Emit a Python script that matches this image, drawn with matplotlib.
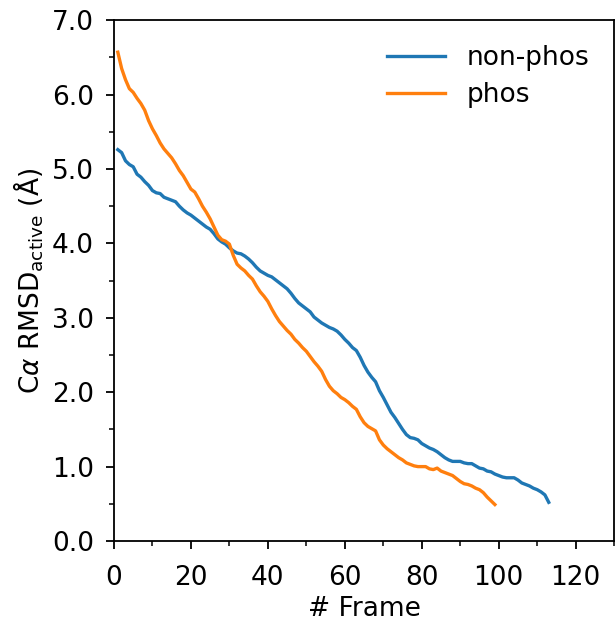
import matplotlib
matplotlib.use("Agg")
import matplotlib.pyplot as plt
from matplotlib.ticker import MultipleLocator, FormatStrFormatter

nonphos = [5.26, 5.22, 5.11, 5.06, 5.03, 4.93, 4.89, 4.83, 4.78, 4.71,
           4.68, 4.67, 4.62, 4.60, 4.58, 4.56, 4.50, 4.45, 4.41, 4.38,
           4.34, 4.30, 4.26, 4.22, 4.19, 4.13, 4.06, 4.02, 3.99, 3.94,
           3.90, 3.87, 3.86, 3.83, 3.79, 3.74, 3.68, 3.63, 3.60, 3.57,
           3.55, 3.51, 3.47, 3.43, 3.39, 3.33, 3.26, 3.20, 3.16, 3.12,
           3.08, 3.01, 2.97, 2.93, 2.90, 2.87, 2.85, 2.82, 2.77, 2.71,
           2.66, 2.60, 2.56, 2.47, 2.36, 2.27, 2.20, 2.14, 2.02, 1.93,
           1.83, 1.73, 1.66, 1.58, 1.50, 1.43, 1.39, 1.38, 1.36, 1.31,
           1.28, 1.25, 1.23, 1.20, 1.16, 1.12, 1.09, 1.07, 1.07, 1.07,
           1.05, 1.04, 1.04, 1.01, 0.98, 0.97, 0.94, 0.93, 0.90, 0.88,
           0.86, 0.85, 0.85, 0.85, 0.82, 0.78, 0.76, 0.74, 0.71, 0.69,
           0.66, 0.62, 0.52]

phos = [6.57, 6.35, 6.20, 6.08, 6.03, 5.95, 5.88, 5.79, 5.65, 5.54,
        5.45, 5.35, 5.27, 5.21, 5.15, 5.07, 4.98, 4.91, 4.82, 4.73,
        4.69, 4.60, 4.50, 4.42, 4.33, 4.22, 4.11, 4.05, 4.03, 3.99,
        3.84, 3.72, 3.67, 3.63, 3.57, 3.52, 3.43, 3.35, 3.29, 3.22,
        3.12, 3.03, 2.95, 2.89, 2.83, 2.78, 2.71, 2.66, 2.60, 2.55,
        2.48, 2.41, 2.35, 2.28, 2.17, 2.08, 2.02, 1.98, 1.93, 1.90,
        1.86, 1.81, 1.77, 1.67, 1.59, 1.54, 1.51, 1.48, 1.36, 1.29,
        1.24, 1.20, 1.16, 1.12, 1.09, 1.05, 1.03, 1.01, 1.00, 1.00,
        1.00, 0.97, 0.96, 0.98, 0.94, 0.92, 0.90, 0.88, 0.84, 0.80,
        0.77, 0.76, 0.74, 0.71, 0.69, 0.65, 0.59, 0.54, 0.49]

frames_nonphos = list(range(1, len(nonphos) + 1))
frames_phos = list(range(1, len(phos) + 1))

fig = plt.figure(figsize=(6.16, 6.23), dpi=100)
ax = fig.add_axes([0.185, 0.1316, 0.812, 0.836])

ax.plot(frames_nonphos, nonphos, color='#1f77b4', lw=2.4, label='non-phos')
ax.plot(frames_phos, phos, color='#ff7f0e', lw=2.4, label='phos')

ax.set_xlim(0, 130)
ax.set_ylim(0, 7)
ax.xaxis.set_major_locator(MultipleLocator(20))
ax.xaxis.set_minor_locator(MultipleLocator(10))
ax.yaxis.set_major_locator(MultipleLocator(1))
ax.yaxis.set_minor_locator(MultipleLocator(0.5))
ax.yaxis.set_major_formatter(FormatStrFormatter('%.1f'))
ax.tick_params(which='major', length=6, width=1.3, labelsize=19)
ax.tick_params(axis='x', which='major', pad=11)
ax.tick_params(axis='y', which='major', pad=8.5)
ax.tick_params(which='minor', length=3.5, width=1.1)
for s in ax.spines.values():
    s.set_linewidth(1.3)

ax.set_xlabel('# Frame', fontsize=19, labelpad=4)
ax.set_ylabel(r'C$\alpha$ RMSD$_{\mathrm{active}}$ (Å)', fontsize=19)
ax.legend(loc='upper right', frameon=False, fontsize=19, handlelength=2.2,
          borderaxespad=0.55, labelspacing=0.4)

fig.savefig('out.png', dpi=100)
